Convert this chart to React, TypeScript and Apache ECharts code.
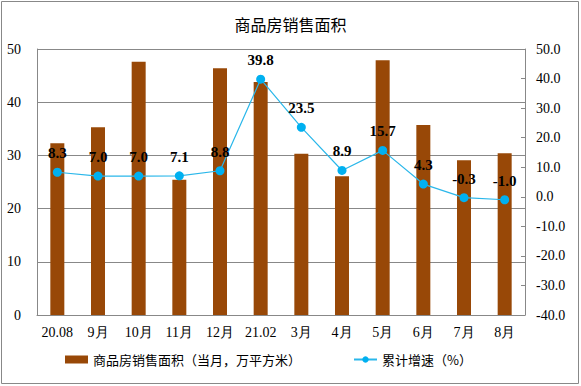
import React, { useEffect, useRef } from "react";
import * as echarts from "echarts";

const categories = ["20.08", "9月", "10月", "11月", "12月", "21.02", "3月", "4月", "5月", "6月", "7月", "8月"];
const salesArea = [32.3, 35.3, 47.6, 25.4, 46.4, 43.8, 30.3, 26.1, 47.9, 35.7, 29.1, 30.4];
const growth = [8.3, 7.0, 7.0, 7.1, 8.8, 39.8, 23.5, 8.9, 15.7, 4.3, -0.3, -1.0];

const serif = "'Liberation Serif', 'Times New Roman', serif";
const cjk = "'Noto Sans CJK SC', sans-serif";

export default function App() {
  const ref = useRef<HTMLDivElement>(null);
  useEffect(() => {
    document.body.style.margin = "0";
    const chart = echarts.init(ref.current!, null, { renderer: "svg" });
    chart.setOption({
      animation: false,
      backgroundColor: "#fff",
      title: {
        text: "商品房销售面积",
        left: "center",
        top: 11,
        textStyle: { fontFamily: cjk, fontSize: 16, fontWeight: "normal", color: "#000" },
      },
      graphic: [
        {
          type: "rect",
          shape: { x: 1.5, y: 1.5, width: 577, height: 382 },
          style: { fill: "none", stroke: "#888", lineWidth: 1 },
        },
      ],
      legend: {
        left: 60,
        top: 348,
        itemGap: 52,
        itemWidth: 23,
        itemHeight: 8,
        textStyle: { fontFamily: cjk, fontSize: 13, color: "#000" },
        data: [
          { name: "商品房销售面积（当月，万平方米）", icon: "rect" },
          { name: "累计增速（%）" },
        ],
      },
      grid: { left: 37, right: 56, top: 49, bottom: 71 },
      xAxis: {
        type: "category",
        data: categories,
        axisLine: { lineStyle: { color: "#888" } },
        axisTick: { inside: true, length: 4, lineStyle: { color: "#888" } },
        axisLabel: { interval: 0, fontFamily: serif, fontSize: 14, color: "#000", margin: 10 },
      },
      yAxis: [
        {
          type: "value",
          min: 0,
          max: 50,
          interval: 10,
          axisLine: { show: true, lineStyle: { color: "#888" } },
          axisTick: { show: false },
          splitLine: { lineStyle: { color: "#888" } },
          axisLabel: { fontFamily: serif, fontSize: 14, color: "#000", margin: 16 },
        },
        {
          type: "value",
          min: -40,
          max: 50,
          interval: 10,
          position: "right",
          axisLine: { show: true, lineStyle: { color: "#888" } },
          axisTick: { show: true, inside: true, length: 4, lineStyle: { color: "#888" } },
          splitLine: { show: false },
          axisLabel: {
            fontFamily: serif,
            fontSize: 14,
            color: "#000",
            margin: 11,
            formatter: (v: number) => v.toFixed(1),
          },
        },
      ],
      series: [
        {
          name: "商品房销售面积（当月，万平方米）",
          type: "bar",
          data: salesArea,
          barWidth: 14,
          itemStyle: { color: "#984807" },
          yAxisIndex: 0,
        },
        {
          name: "累计增速（%）",
          type: "line",
          data: growth,
          yAxisIndex: 1,
          symbol: "circle",
          symbolSize: 9,
          lineStyle: { color: "#2ab7ea", width: 1.2 },
          itemStyle: { color: "#00b0f0" },
          label: {
            show: true,
            position: "top",
            distance: 7,
            fontFamily: serif,
            fontSize: 15,
            fontWeight: "bold",
            color: "#000",
            formatter: (p: any) => Number(p.value).toFixed(1),
          },
        },
      ],
    });
    return () => chart.dispose();
  }, []);
  return <div ref={ref} style={{ width: 581, height: 386 }} />;
}
